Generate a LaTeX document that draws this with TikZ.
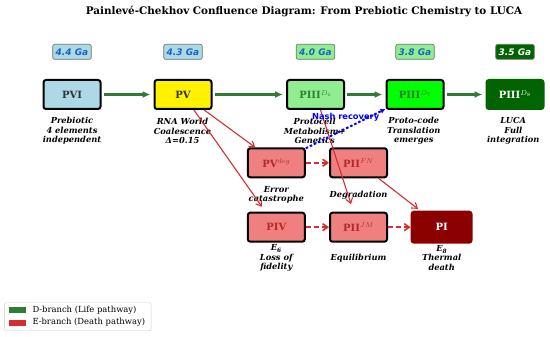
\documentclass[tikz,border=0pt]{standalone}
\usepackage{fontspec}
\setmainfont{DejaVu Serif}
\newfontfamily\agefont{DejaVu Sans}
\usepackage{tikz}
\usetikzlibrary{positioning,arrows.meta,calc}
\definecolor{lifegreen}{HTML}{2E7D32}
\definecolor{deathred}{HTML}{D32F2F}
\definecolor{lcoral}{HTML}{F08080}
\definecolor{lblue}{HTML}{ADD8E6}
\definecolor{lgreen}{HTML}{90EE90}
\definecolor{lime}{HTML}{00FF00}
\definecolor{dgreen}{HTML}{006400}
\definecolor{dred}{HTML}{8B0000}
\definecolor{agetext}{HTML}{1565C0}

\begin{document}
\begin{tikzpicture}[x=1pt, y=-1pt,
  m/.style={draw, line width=2pt, rounded corners=2.5pt, minimum width=57pt, minimum height=29pt, inner sep=0pt, font=\fontsize{10}{12}\selectfont\bfseries, text=black!80},
  mred/.style={m, fill=lcoral, text=deathred!85!black},
  age/.style={draw=black!55, line width=0.7pt, rounded corners=2pt, inner xsep=3pt, inner ysep=0pt, minimum height=15pt, font=\agefont\fontsize{9}{10}\selectfont\bfseries\itshape, text=agetext},
  desc/.style={align=center, inner sep=0pt, font=\fontsize{8.3}{9.3}\selectfont\bfseries\itshape},
  life/.style={-{Latex[length=8pt,width=7pt]}, line width=2.3pt, lifegreen, shorten <=2pt, shorten >=3pt},
  death/.style={-{Straight Barb[length=5pt,width=7pt]}, line width=1.1pt, deathred},
  deathd/.style={death, line width=1.6pt, dash pattern=on 5pt off 3pt},
  patch/.style={minimum width=17pt, minimum height=6pt, inner sep=0pt},
  lgtext/.style={font=\fontsize{8.4}{9}\selectfont, inner sep=0pt}
]
\useasboundingbox (0,0) rectangle (550,337);
\node[font=\fontsize{10.4}{13}\selectfont\bfseries] (title) at (304,11) {Painlevé-Chekhov Confluence Diagram: From Prebiotic Chemistry to LUCA};

% D-branch
\node[m, fill=lblue] (pvi) at (72,94.5) {PVI};
\node[m, fill=yellow, right=52pt of pvi] (pv) {PV};
\node[m, fill=lgreen, text=lifegreen, right=73.5pt of pv] (piii6) {PIII$^{D_6}$};
\node[m, fill=lime, text=lifegreen, right=40.5pt of piii6] (piii7) {PIII$^{D_7}$};
\node[m, fill=dgreen, draw=dgreen, text=white, right=41pt of piii7] (piii8) {PIII$^{D_8}$};

% E-branch
\node[mred] (pvdeg) at (276.3,162.8) {PV$^{deg}$};
\node[mred, right=23.2pt of pvdeg] (piifn) {PII$^{FN}$};
\node[mred, below=33.4pt of pvdeg] (piv) {PIV};
\node[mred, right=23.2pt of piv] (piijm) {PII$^{JM}$};
\node[m, fill=dred, draw=dred, text=white, minimum width=60pt, minimum height=31pt, right=22.6pt of piijm] (pi) {PI};

% ages
\node[age, fill=lblue, above=19.3pt of pvi] (gpvi) {4.4 Ga};
\node[age, fill=lblue, above=19.3pt of pv] (gpv) {4.3 Ga};
\node[age, fill=lgreen, above=19.3pt of piii6] (gpiii6) {4.0 Ga};
\node[age, fill=lgreen, above=19.3pt of piii7] (gpiii7) {3.8 Ga};
\node[age, fill=dgreen, text=white, above=19.3pt of piii8] (gpiii8) {3.5 Ga};

% descriptions
\node[desc] (dpvi) at (72,131) {Prebiotic\\4 elements\\independent};
\node[desc] (dpv) at (182.5,131) {RNA World\\Coalescence\\Δ=0.15};
\node[desc] (dpiii6) at (314.7,131) {Protocell\\Metabolism+\\Genetics};
\node[desc] (dpiii7) at (413.8,131) {Proto-code\\Translation\\emerges};
\node[desc] (dpiii8) at (513.3,131) {LUCA\\Full\\integration};
\node[desc] (dpvdeg) at (276.3,195) {Error\\catastrophe};
\node[desc] (dpiifn) at (358.5,195) {Degradation};
\node[desc] (dpiv) at (276.3,258) {E\textsubscript{6}\\Loss of\\fidelity};
\node[desc] (dpiijm) at (358.5,258.3) {Equilibrium};
\node[desc] (dpi) at (441.7,258) {E\textsubscript{8}\\Thermal\\death};

% connectors
\draw[life] (pvi) -- (pv);
\draw[life] (pv) -- (piii6);
\draw[life] (piii6) -- (piii7);
\draw[life] (piii7) -- (piii8);
\draw[death] (pv) -- (pvdeg);
\draw[death, shorten >=6pt] (pv) -- (piv);
\draw[death, shorten >=8pt] (piii6) -- (piijm);
\draw[death, shorten >=3pt] (piifn) -- (pi);
\draw[deathd] (pvdeg) -- (piifn);
\draw[deathd] (piv) -- (piijm);
\draw[deathd] (piijm) -- (pi);
\draw[blue, line width=2pt, dash pattern=on 2.5pt off 2pt, -{Latex[length=5pt,width=5pt]}] (pvdeg) -- node[above=3pt, text=blue, font=\agefont\fontsize{8.3}{9}\selectfont\bfseries] (nash) {Nash recovery} (piii7);

% legend
\node[draw=black!20, fill=white, rounded corners=2pt, minimum width=146.7pt, minimum height=28pt, inner sep=0pt] (legend) at (77.7,316.7) {};
\node[patch, fill=lifegreen] (plife) at (17,310) {};
\node[patch, fill=deathred] (pdeath) at (17,322.7) {};
\node[lgtext, right=6.6pt of plife] (tlife) {D-branch (Life pathway)};
\node[lgtext, right=6.6pt of pdeath] (tdeath) {E-branch (Death pathway)};
\end{tikzpicture}
\end{document}
